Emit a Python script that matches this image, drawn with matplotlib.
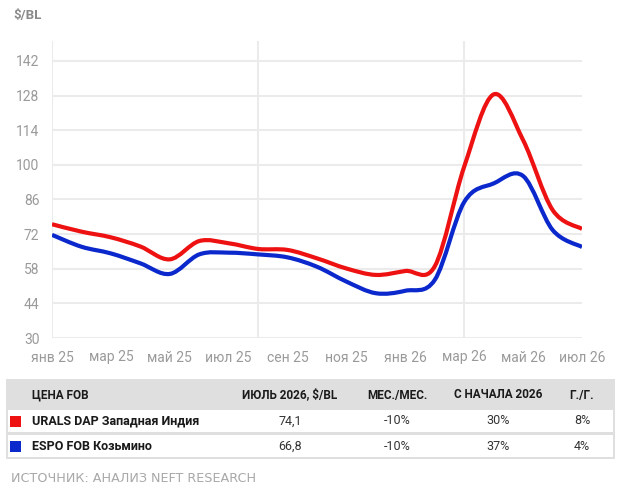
import numpy as np
import matplotlib
matplotlib.use("Agg")
import matplotlib.pyplot as plt
from matplotlib.path import Path
from matplotlib.patches import PathPatch, Rectangle

# monthly prices, $/bl, янв 25 .. июл 26
months = ["янв 25", "фев 25", "мар 25", "апр 25", "май 25", "июн 25", "июл 25",
          "авг 25", "сен 25", "окт 25", "ноя 25", "дек 25", "янв 26", "фев 26",
          "мар 26", "апр 26", "май 26", "июн 26", "июл 26"]
urals = [76.0, 73.0, 70.7, 67.0, 61.8, 69.2, 68.3, 66.0, 65.6, 62.2, 58.1, 55.5,
         57.1, 59.0, 99.3, 128.5, 110.0, 81.8, 74.1]
espo = [71.7, 66.9, 64.2, 60.2, 55.9, 63.8, 64.5, 63.8, 62.6, 58.8, 52.8, 48.1,
        49.1, 53.5, 85.0, 92.5, 95.5, 73.7, 66.8]

yticks = [30, 44, 58, 72, 86, 100, 114, 128, 142]

# table
columns = ["ЦЕНА FOB", "ИЮЛЬ 2026, $/BL", "МЕС./МЕС.", "С НАЧАЛА 2026", "Г./Г."]
names = ["URALS DAP Западная Индия", "ESPO FOB Козьмино"]
last_price = ["74,1", "66,8"]
mom = ["-10%", "-10%"]
ytd = ["30%", "37%"]
yoy = ["8%", "4%"]

RED = "#ee1111"
BLUE = "#0a28cc"
GRID = "#ebebeb"
TICK = "#9a9a9a"

plt.rcParams["font.family"] = ["Roboto", "DejaVu Sans"]


def smooth_path(xs, ys):
    # catmull-rom through the points, drawn as cubic beziers
    pts = np.column_stack([xs, ys]).astype(float)
    n = len(pts)
    verts = [pts[0]]
    codes = [Path.MOVETO]
    for i in range(n - 1):
        p0 = pts[max(i - 1, 0)]
        p1 = pts[i]
        p2 = pts[i + 1]
        p3 = pts[min(i + 2, n - 1)]
        c1 = p1 + (p2 - p0) / 6.0
        c2 = p2 - (p3 - p1) / 6.0
        verts += [c1, c2, p2]
        codes += [Path.CURVE4] * 3
    return Path(verts, codes)


fig = plt.figure(figsize=(6.24, 4.91), dpi=100)
ax = fig.add_axes([52 / 624, 1 - 338 / 491, 530 / 624, (338 - 41.2) / 491])

x = np.arange(len(months))
ax.set_xlim(0, len(months) - 1)
ax.set_ylim(30, 150)

for y in yticks:
    ax.axhline(y, color=GRID, lw=1.5, zorder=0)
for xv in [0, 7, 14]:
    ax.axvline(xv, color=GRID, lw=1.5, zorder=0)

for vals, col in [(urals, RED), (espo, BLUE)]:
    ax.add_patch(PathPatch(smooth_path(x, vals), fill=False, edgecolor=col,
                           lw=3, capstyle="butt", zorder=3))

ax.set_yticks(yticks)
ax.set_yticklabels([str(v) for v in yticks])
ax.set_xticks(x[::2])
ax.set_xticklabels(months[::2])
ax.tick_params(axis="both", length=0, colors=TICK, labelsize=10)
ax.tick_params(axis="y", pad=9)
ax.tick_params(axis="x", pad=9)
for s in ax.spines.values():
    s.set_visible(False)

fig.text(13 / 624, 1 - 16 / 491, "$/BL", fontsize=9.5, fontweight="bold",
         color="#8a8a8a", va="center", ha="left")

# table drawn in pixel coords
tb = fig.add_axes([0, 0, 1, 1], zorder=-1)
tb.set_xlim(0, 624)
tb.set_ylim(491, 0)
tb.axis("off")

tb.add_patch(Rectangle((6, 379), 609, 79.5, facecolor="#dfdfdf", edgecolor="none"))
tb.add_patch(Rectangle((8, 410), 605, 21.5, facecolor="white", edgecolor="none"))
tb.add_patch(Rectangle((8, 434.5), 605, 22.5, facecolor="white", edgecolor="none"))

col_x = [32, 290, 397, 498, 582]
hy = 395
for i, c in enumerate(columns):
    tb.text(col_x[i], hy, c, fontsize=8.5, fontweight="bold", color="#1a1a1a",
            ha="left" if i == 0 else "center", va="center")

row_y = [421, 446]
for r in range(2):
    col = RED if r == 0 else BLUE
    tb.add_patch(Rectangle((10, row_y[r] - 5), 11, 10.5, facecolor=col, edgecolor="none"))
    tb.text(col_x[0], row_y[r], names[r], fontsize=9, fontweight="bold",
            color="#1a1a1a", ha="left", va="center")
    for j, v in enumerate([last_price[r], mom[r], ytd[r], yoy[r]]):
        tb.text(col_x[j + 1], row_y[r], v, fontsize=9, color="#333333",
                ha="center", va="center")

tb.text(11, 479, "ИСТОЧНИК: АНАЛИЗ NEFT RESEARCH", fontsize=9.2,
        family=["DejaVu Sans"], color="#a8a8a8", ha="left", va="center")

fig.savefig("out.png", dpi=100)
